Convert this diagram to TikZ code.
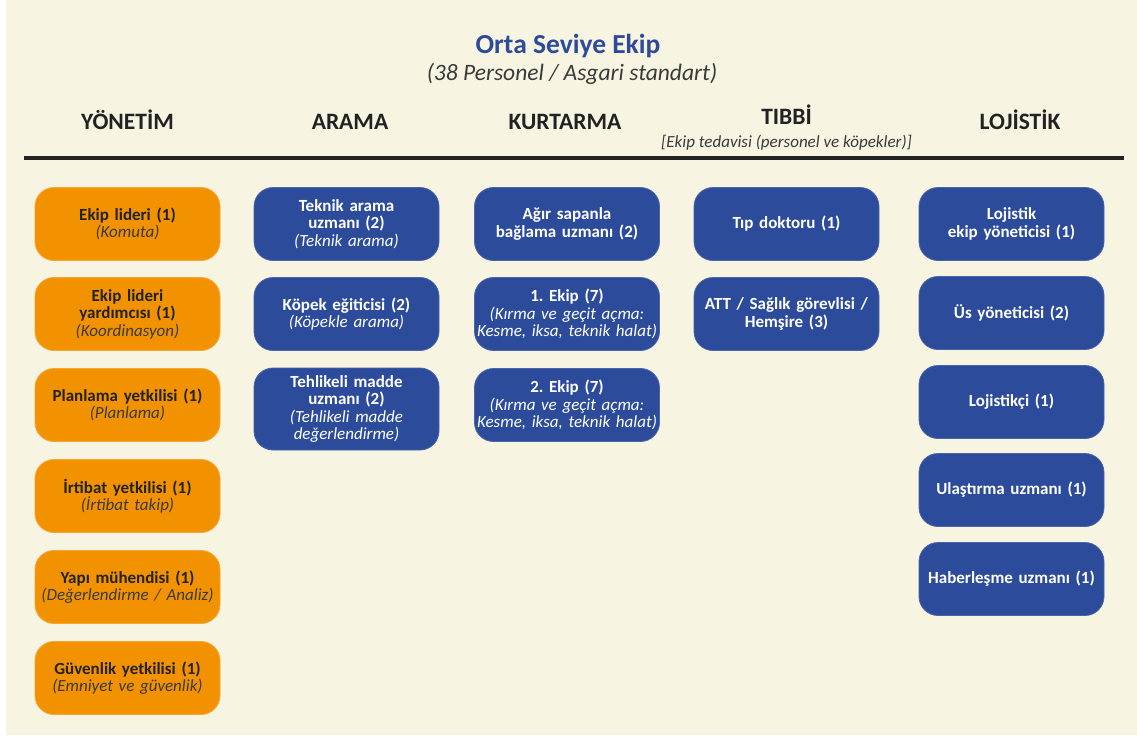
\documentclass[tikz,border=0pt]{standalone}
\usepackage{fontspec}
\setmainfont{Carlito}
\definecolor{cream}{HTML}{F7F4E1}
\definecolor{teamorange}{HTML}{F29200}
\definecolor{teamorangeedge}{HTML}{F5A830}
\definecolor{teamblue}{HTML}{2C4B9B}
\definecolor{teamblueedge}{HTML}{4A64AA}
\definecolor{titleblue}{HTML}{2E4A9B}
\definecolor{inkdark}{HTML}{222222}
\definecolor{inkgray}{HTML}{3A3A3A}
\tikzset{
  x=1pt, y=-1pt,
  rolebox/.style={rounded corners=19pt, minimum width=185pt, minimum height=73pt,
    inner sep=0pt, text width=185pt, align=center,
    font=\fontsize{17}{17.5}\selectfont},
  orbox/.style={rolebox, fill=teamorange, draw=teamorangeedge, line width=0.8pt, text=inkdark},
  blbox/.style={rolebox, fill=teamblue, draw=teamblueedge, line width=0.8pt, text=white},
  colhead/.style={font=\fontsize{23.5}{26}\bfseries\selectfont, text=inkdark, inner sep=0pt, anchor=base},
}
\newcommand{\orsub}[1]{\\{\itshape\color{inkgray}#1}}
\newcommand{\blsub}[1]{\\{\itshape #1}}
\begin{document}
\frenchspacing
\begin{tikzpicture}
  % page and background
  \fill[white] (0,0) rectangle (1137,737);
  \fill[cream] (6,0) rectangle (1137,735);
  \useasboundingbox (0,0) rectangle (1137,737);

  % title
  \node[font=\fontsize{27.5}{30}\bfseries\selectfont, text=titleblue, inner sep=0pt, anchor=base] (title) at (568,53) {Orta Seviye Ekip};
  \node[font=\fontsize{23.5}{26}\itshape\selectfont, text=inkgray, inner sep=0pt, anchor=base] (subtitle) at (572,80) {(38 Personel / Asgari standart)};

  % column headings
  \node[colhead] (hY) at (127.5,129) {YÖNETİM};
  \node[colhead] (hA) at (350,129) {ARAMA};
  \node[colhead] (hK) at (565,129) {KURTARMA};
  \node[colhead] (hT) at (786.5,124) {TIBBİ};
  \node[font=\fontsize{17}{19}\itshape\selectfont, text=inkgray, inner sep=0pt, anchor=base] (hTsub) at (786.5,147) {[Ekip tedavisi (personel ve köpekler)]};
  \node[colhead] (hL) at (1020,129) {LOJİSTİK};

  % heading rule
  \coordinate (ruleL) at (24,158);
  \coordinate (ruleR) at (1124,158);
  \draw[inkdark, line width=4pt] (ruleL) -- (ruleR);

  % management
  \node[orbox] (y1) at (127.5,224) {\textbf{Ekip lideri (1)}\orsub{(Komuta)}};
  \node[orbox] (y2) at (127.5,314) {\textbf{Ekip lideri}\\\textbf{yardımcısı (1)}\orsub{(Koordinasyon)}};
  \node[orbox] (y3) at (127.5,405) {\textbf{Planlama yetkilisi (1)}\orsub{(Planlama)}};
  \node[orbox] (y4) at (127.5,496) {\textbf{İrtibat yetkilisi (1)}\orsub{(İrtibat takip)}};
  \node[orbox] (y5) at (127.5,587) {\textbf{Yapı mühendisi (1)}\orsub{(Değerlendirme / Analiz)}};
  \node[orbox] (y6) at (127.5,678) {\textbf{Güvenlik yetkilisi (1)}\orsub{(Emniyet ve güvenlik)}};

  % search
  \node[blbox] (a1) at (346.5,224) {\textbf{Teknik arama}\\\textbf{uzmanı (2)}\blsub{(Teknik arama)}};
  \node[blbox] (a2) at (346.5,314) {\textbf{Köpek eğiticisi (2)}\blsub{(Köpekle arama)}};
  \node[blbox, minimum height=82pt] (a3) at (346.5,409) {\textbf{Tehlikeli madde}\\\textbf{uzmanı (2)}\blsub{(Tehlikeli madde}\blsub{değerlendirme)}};

  % rescue
  \node[blbox] (k1) at (567,224) {\textbf{Ağır sapanla}\\\textbf{bağlama uzmanı (2)}};
  \node[blbox] (k2) at (567,314) {\textbf{1. Ekip (7)}\blsub{(Kırma ve geçit açma:}\blsub{Kesme, iksa, teknik halat)}};
  \node[blbox] (k3) at (567,405) {\textbf{2. Ekip (7)}\blsub{(Kırma ve geçit açma:}\blsub{Kesme, iksa, teknik halat)}};

  % medical
  \node[blbox] (t1) at (786.5,224) {\textbf{Tıp doktoru (1)}};
  \node[blbox] (t2) at (786.5,314) {\textbf{ATT / Sağlık görevlisi /}\\\textbf{Hemşire (3)}};

  % logistics
  \node[blbox] (l1) at (1011.5,224) {\textbf{Lojistik}\\\textbf{ekip yöneticisi (1)}};
  \node[blbox] (l2) at (1011.5,313) {\textbf{Üs yöneticisi (2)}};
  \node[blbox] (l3) at (1011.5,402) {\textbf{Lojistikçi (1)}};
  \node[blbox] (l4) at (1011.5,490) {\textbf{Ulaştırma uzmanı (1)}};
  \node[blbox] (l5) at (1011.5,579) {\textbf{Haberleşme uzmanı (1)}};
\end{tikzpicture}
\end{document}
